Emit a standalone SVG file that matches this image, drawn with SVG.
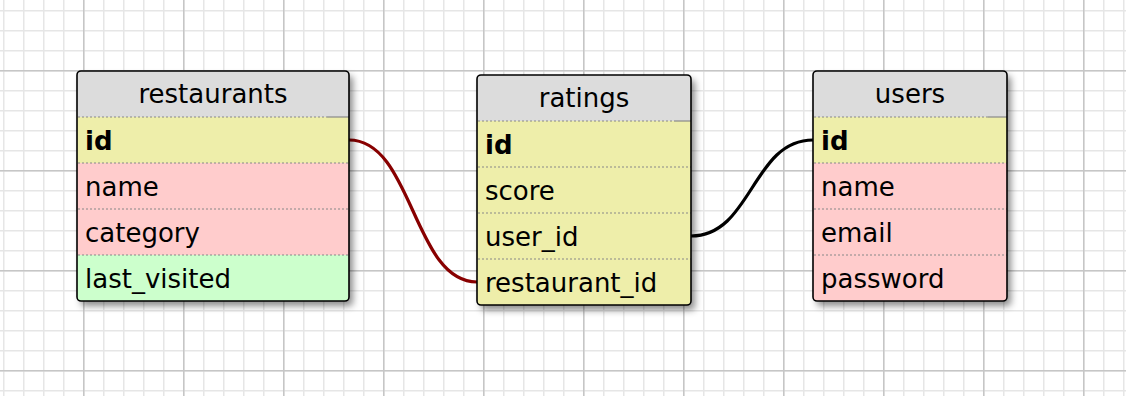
<svg xmlns="http://www.w3.org/2000/svg" width="1126" height="396" viewBox="0 0 1126 396">
  <defs>
    <pattern id="gridMinor" patternUnits="userSpaceOnUse" x="3" y="10" width="20" height="20">
      <path d="M0.75 0V20M0 0.75H20" fill="none" stroke="#e6e6e6" stroke-width="1.5"/>
    </pattern>
    <pattern id="gridMajor" patternUnits="userSpaceOnUse" x="83" y="70" width="100" height="100">
      <path d="M0.75 0V100M0 0.75H100" fill="none" stroke="#c6c6c6" stroke-width="1.5"/>
    </pattern>
    <filter id="shadow" x="-10%" y="-10%" width="130%" height="130%">
      <feDropShadow dx="4" dy="5" stdDeviation="3.5" flood-color="#000" flood-opacity="0.45"/>
    </filter>
  </defs>
  <style>
    .hdr { fill: #dcdcdc; }
    .key { fill: #eeeeaa; }
    .txt { fill: #ffcccc; }
    .dt  { fill: #ccffcc; }
    .sep { stroke: #888; stroke-width: 1.2; stroke-dasharray: 2 2; fill: none; }
    .sepEnd { stroke: #888; stroke-width: 1.2; fill: none; }
    .frame { fill: none; stroke: #000; stroke-width: 1.6; }
    .title { font-family: "DejaVu Sans", Verdana, sans-serif; font-size: 26px; fill: #000; text-anchor: middle; }
    .field { font-family: "DejaVu Sans", Verdana, sans-serif; font-size: 26px; fill: #000; }
    .pk { font-weight: bold; }
    .link { fill: none; stroke-width: 3.2; }
  </style>

  <!-- background grid -->
  <rect width="1126" height="396" fill="#fff"/>
  <rect width="1126" height="396" fill="url(#gridMinor)"/>
  <rect width="1126" height="396" fill="url(#gridMajor)"/>

  <!-- relations -->
  <g id="connectors">
    <path class="link" stroke="#880000" d="M349 140 C413 140 413 282 477 282"/>
    <path class="link" stroke="#000" d="M691 236 C752 236 752 140 813 140"/>
  </g>

  <!-- restaurants table -->
  <g id="restaurants">
    <clipPath id="clipRest"><rect x="77" y="71" width="272" height="230" rx="4"/></clipPath>
    <g filter="url(#shadow)">
      <rect x="77" y="71" width="272" height="230" rx="4" fill="#dcdcdc"/>
    </g>
    <g clip-path="url(#clipRest)">
      <rect class="hdr" x="77" y="71" width="272" height="46"/>
      <rect class="key" x="77" y="117" width="272" height="46"/>
      <rect class="txt" x="77" y="163" width="272" height="46"/>
      <rect class="txt" x="77" y="209" width="272" height="46"/>
      <rect class="dt" x="77" y="255" width="272" height="46"/>
    </g>
    <path class="sep" d="M78 117H327M78 163H349M78 209H349M78 255H349"/>
    <path class="sepEnd" d="M327 117H349"/>
    <rect class="frame" x="77" y="71" width="272" height="230" rx="4"/>
    <text class="title" x="213" y="103">restaurants</text>
    <text class="field pk" x="85" y="150">id</text>
    <text class="field" x="85" y="196">name</text>
    <text class="field" x="85" y="242">category</text>
    <text class="field" x="85" y="288">last_visited</text>
  </g>

  <!-- ratings table -->
  <g id="ratings">
    <clipPath id="clipRat"><rect x="477" y="75" width="214" height="230" rx="4"/></clipPath>
    <g filter="url(#shadow)">
      <rect x="477" y="75" width="214" height="230" rx="4" fill="#dcdcdc"/>
    </g>
    <g clip-path="url(#clipRat)">
      <rect class="hdr" x="477" y="75" width="214" height="46"/>
      <rect class="key" x="477" y="121" width="214" height="184"/>
    </g>
    <path class="sep" d="M478 121H674M478 167H691M478 213H691M478 259H691"/>
    <path class="sepEnd" d="M674 121H691"/>
    <rect class="frame" x="477" y="75" width="214" height="230" rx="4"/>
    <text class="title" x="584" y="107">ratings</text>
    <text class="field pk" x="485" y="154">id</text>
    <text class="field" x="485" y="200">score</text>
    <text class="field" x="485" y="246">user_id</text>
    <text class="field" x="485" y="292">restaurant_id</text>
  </g>

  <!-- users table -->
  <g id="users">
    <clipPath id="clipUsr"><rect x="813" y="71" width="194" height="230" rx="4"/></clipPath>
    <g filter="url(#shadow)">
      <rect x="813" y="71" width="194" height="230" rx="4" fill="#dcdcdc"/>
    </g>
    <g clip-path="url(#clipUsr)">
      <rect class="hdr" x="813" y="71" width="194" height="46"/>
      <rect class="key" x="813" y="117" width="194" height="46"/>
      <rect class="txt" x="813" y="163" width="194" height="138"/>
    </g>
    <path class="sep" d="M814 117H988M814 163H1007M814 209H1007M814 255H1007"/>
    <path class="sepEnd" d="M988 117H1007"/>
    <rect class="frame" x="813" y="71" width="194" height="230" rx="4"/>
    <text class="title" x="910" y="103">users</text>
    <text class="field pk" x="821" y="150">id</text>
    <text class="field" x="821" y="196">name</text>
    <text class="field" x="821" y="242">email</text>
    <text class="field" x="821" y="288">password</text>
  </g>
</svg>
